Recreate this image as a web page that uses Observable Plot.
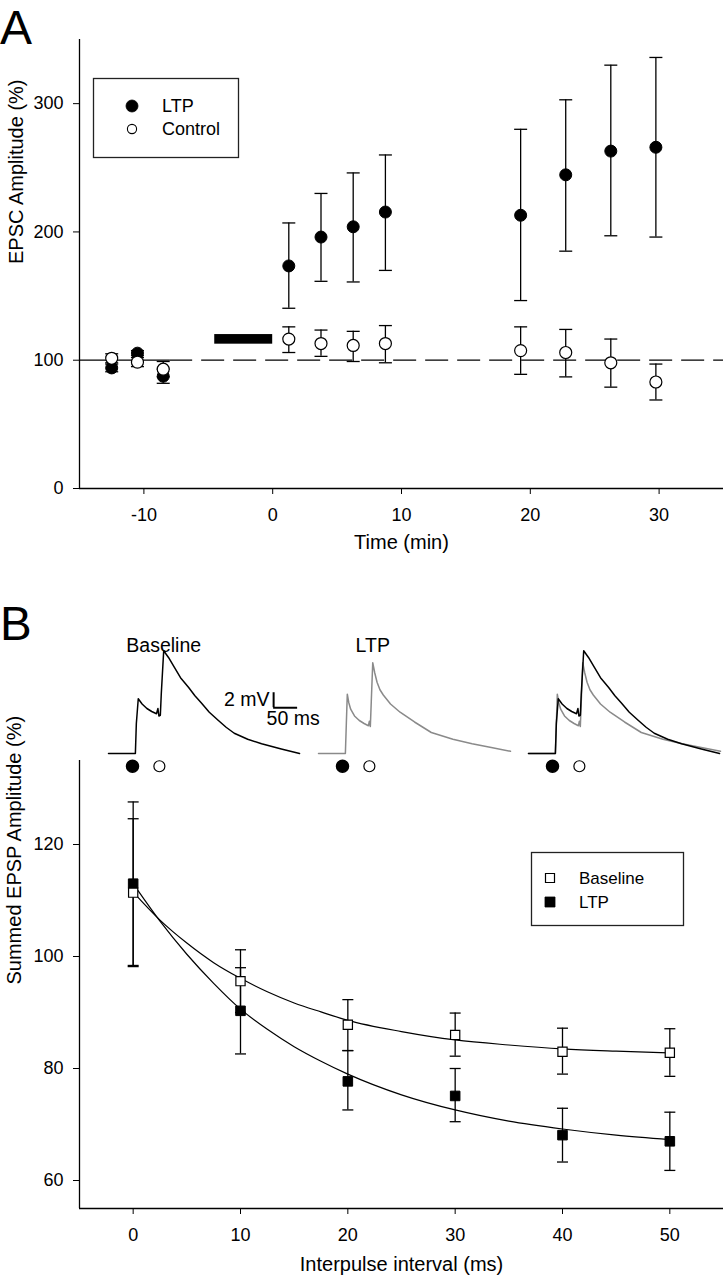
<!DOCTYPE html>
<html>
<head>
<meta charset="utf-8">
<script src="https://cdn.jsdelivr.net/npm/d3@7"></script>
<script src="https://cdn.jsdelivr.net/npm/@observablehq/plot@0.6"></script>
<style>
  body { margin: 0; background: #fff; }
  #fig { position: relative; width: 723px; height: 1280px; overflow: hidden;
         font-family: "Liberation Sans", Arial, Helvetica, sans-serif; color: #000; background: #fff; }
  .panel-letter { position: absolute; font-family: "Liberation Sans", Arial, sans-serif; }
</style>
</head>
<body>
<div id="fig"></div>
<script>
// ---------------- Panel A data ----------------
const timeA    = [-12.5, -10.5, -8.5, 1.25, 3.75, 6.25, 8.75, 19.25, 22.75, 26.25, 29.75];
const ltpMeanA = [94, 105.5, 87.5, 173.5, 196, 204, 215.5, 213, 244.5, 263, 266];
const ltpLowA  = [91, 103.5, 82, 140.5, 161.5, 161, 170, 146.5, 185, 197, 196];
const ltpHighA = [97, 107.5, 93, 207, 230, 246, 260, 280, 303, 330, 336];
const ctlMeanA = [101.5, 98.5, 93, 116.5, 113, 111.5, 113, 107.5, 106, 98, 83];
const ctlLowA  = [98, 95, 87, 106, 103, 99, 98, 89, 87, 79, 69];
const ctlHighA = [105, 102, 99, 126, 123.5, 122.5, 127, 126, 124, 116.5, 97];
const seriesNamesA = ["LTP", "Control"];
const xTicksA = [-10, 0, 10, 20, 30];
const yTicksA = [0, 100, 200, 300];
const refLevelA = 100;
const hfsBar = [{start: -4.5, end: 0, low: 112.5, high: 120}];

// ---------------- Panel B data ----------------
const intervalB = [0, 10, 20, 30, 40, 50];
const baseMeanB = [111.4, 95.6, 87.8, 86, 83, 82.8];
const baseLowB  = [98.2, 90, 83.2, 82.2, 79, 78.6];
const baseHighB = [124.6, 101.2, 92.3, 89.9, 87.2, 87.1];
const ltpMeanB  = [113, 90.3, 77.7, 75.1, 68.1, 67];
const ltpLowB   = [98.4, 82.6, 72.6, 70.5, 63.3, 61.8];
const ltpHighB  = [127.6, 98, 83.2, 80, 72.9, 72.2];
const fitT      = [0, 2.5, 5, 7.5, 10, 12.5, 15, 17.5, 20, 25, 30, 35, 40, 45, 50];
const baseFitB  = [111.5, 106.5, 102.4, 98.9, 96.1, 93.7, 91.7, 90.1, 88.6, 86.6, 85.1, 84.2, 83.5, 83.1, 82.8];
const ltpFitB   = [113, 106.3, 100.4, 95.2, 90.6, 87, 83.9, 81.3, 79, 75.3, 72.6, 70.6, 69.2, 68.1, 67.3];
const seriesNamesB = ["Baseline", "LTP"];
const xTicksB = [0, 10, 20, 30, 40, 50];
const yTicksB = [60, 80, 100, 120];

// ---------------- Trace inset data (ms, mV) ----------------
const baselineTraceT = [0, 56, 58, 62, 70, 80, 90, 100, 103, 105, 108, 110, 115, 125, 137, 150, 167, 180, 194, 210, 229, 245, 262, 290, 319, 360, 398];
const baselineTraceV = [0, 0, 4, 7.3, 6.6, 6.0, 5.6, 5.3, 6.0, 5.0, 5.1, 8, 13.7, 12.8, 11.5, 10.1, 8.8, 7.7, 6.7, 5.5, 4.4, 3.5, 2.7, 1.9, 1.3, 0.6, 0];
const ltpTraceT = [0, 56, 58, 60, 63, 67, 75, 85, 95, 104, 106, 108, 110, 113, 117, 122, 128, 135, 150, 170, 200, 235, 280, 320, 360, 400];
const ltpTraceV = [0, 0, 4, 7.9, 6.8, 5.9, 5.0, 4.4, 4.0, 3.7, 4.3, 3.6, 7, 12.1, 10.8, 9.5, 8.5, 7.8, 6.6, 5.5, 4.2, 2.8, 1.9, 1.3, 0.8, 0.3];
const tracePanels = ["Baseline", "LTP", "Overlay"];
const panelLabels = ["Baseline", "LTP", ""];
const stimTimes = [50, 106];
const scaleBarMs = 50, scaleBarMv = 2;

// ---------------- helpers ----------------
const FONT = '"Liberation Sans", Arial, Helvetica, sans-serif';
const W = 723;
const fig = document.getElementById("fig");
const plainNum = d => `${d}`;
function place(node, left, top, z) {
  node.style.position = "absolute";
  node.style.left = left + "px";
  node.style.top = top + "px";
  if (z != null) node.style.zIndex = z;
  fig.appendChild(node);
}
const capSymbol = {
  draw(ctx, size) { const r = Math.sqrt(size / Math.PI); ctx.moveTo(-r, 0); ctx.lineTo(r, 0); }
};
function errorMarks(rows, capR, sw) {
  return [
    Plot.ruleX(rows, {x: "x", y1: "low", y2: "high", stroke: "black", strokeWidth: sw}),
    Plot.dot(rows, {x: "x", y: "low", symbol: capSymbol, r: capR, fill: "none", stroke: "black", strokeWidth: sw}),
    Plot.dot(rows, {x: "x", y: "high", symbol: capSymbol, r: capR, fill: "none", stroke: "black", strokeWidth: sw})
  ];
}
const baseStyle = {fontFamily: FONT, fontSize: "18px", background: "transparent", color: "black", overflow: "visible"};

// ---------------- Panel A ----------------
const rowsA = [
  timeA.map((x, i) => ({series: seriesNamesA[0], x, mean: ltpMeanA[i], low: ltpLowA[i], high: ltpHighA[i]})),
  timeA.map((x, i) => ({series: seriesNamesA[1], x, mean: ctlMeanA[i], low: ctlLowA[i], high: ctlHighA[i]}))
];
const xDomA = [-15, 35], yDomA = [0, 350];
const plotA = Plot.plot({
  width: W, height: 570, marginTop: 39, marginBottom: 82, marginLeft: 79, marginRight: 0,
  style: baseStyle,
  x: {domain: xDomA, ticks: xTicksA, tickFormat: plainNum, tickSize: 6, tickPadding: 14, label: null},
  y: {domain: yDomA, ticks: yTicksA, tickFormat: plainNum, tickSize: 6, tickPadding: 10, label: null},
  marks: [
    Plot.ruleY([refLevelA], {x1: xDomA[0], x2: -8, stroke: "black", strokeWidth: 1.2}),
    Plot.ruleY([refLevelA], {x1: -8, x2: xDomA[1], stroke: "black", strokeWidth: 1.2, strokeDasharray: "23,9"}),
    Plot.rect(hfsBar, {x1: "start", x2: "end", y1: "low", y2: "high", fill: "black"}),
    ...errorMarks(rowsA[0], 6.5, 1.3),
    Plot.dot(rowsA[0], {x: "x", y: "mean", r: 6, fill: "black", stroke: "black", strokeWidth: 1}),
    ...errorMarks(rowsA[1], 6.5, 1.3),
    Plot.dot(rowsA[1], {x: "x", y: "mean", r: 6, fill: "white", stroke: "black", strokeWidth: 1.2}),
    Plot.ruleX([xDomA[0]], {stroke: "black", strokeWidth: 1.3}),
    Plot.ruleY([yDomA[0]], {stroke: "black", strokeWidth: 1.3}),
    Plot.text(["EPSC Amplitude (%)"], {frameAnchor: "left", rotate: -90, dx: -63, fontSize: 20}),
    Plot.text(["Time (min)"], {frameAnchor: "bottom", dy: 60, fontSize: 20})
  ]
});
place(plotA, 0, 0, 1);

// ---------------- Panel B ----------------
const rowsB = [
  intervalB.map((x, i) => ({series: seriesNamesB[1], x, mean: ltpMeanB[i], low: ltpLowB[i], high: ltpHighB[i]})),
  intervalB.map((x, i) => ({series: seriesNamesB[0], x, mean: baseMeanB[i], low: baseLowB[i], high: baseHighB[i]}))
];
const fitRows = [
  fitT.map((x, i) => ({series: "Baseline", x, y: baseFitB[i]})),
  fitT.map((x, i) => ({series: "LTP", x, y: ltpFitB[i]}))
].flat();
const xDomB = [-5, 55], yDomB = [55, 135];
const plotB = Plot.plot({
  width: W, height: 540, marginTop: 20, marginBottom: 72, marginLeft: 79, marginRight: 0,
  style: baseStyle,
  x: {domain: xDomB, ticks: xTicksB, tickFormat: plainNum, tickSize: 6, tickPadding: 14, label: null},
  y: {domain: yDomB, ticks: yTicksB, tickFormat: plainNum, tickSize: 6, tickPadding: 10, label: null},
  marks: [
    Plot.line(fitRows, {x: "x", y: "y", z: "series", curve: "monotone-x", stroke: "black", strokeWidth: 1.2}),
    ...errorMarks(rowsB[0], 5.5, 1.3),
    ...errorMarks(rowsB[1], 5.5, 1.3),
    Plot.dot(rowsB[0], {x: "x", y: "mean", symbol: "square", r: 5.4, fill: "black", stroke: "black", strokeWidth: 1}),
    Plot.dot(rowsB[1], {x: "x", y: "mean", symbol: "square", r: 5.2, fill: "white", stroke: "black", strokeWidth: 1.2}),
    Plot.ruleX([xDomB[0]], {stroke: "black", strokeWidth: 1.3}),
    Plot.ruleY([yDomB[0]], {stroke: "black", strokeWidth: 1.3}),
    Plot.text(["Summed EPSP Amplitude (%)"], {frameAnchor: "left", rotate: -90, dx: -65, fontSize: 20}),
    Plot.text(["Interpulse interval (ms)"], {frameAnchor: "bottom", dy: 62, fontSize: 20})
  ]
});
place(plotB, 0, 740, 1);

// ---------------- Trace insets ----------------
const traceDefs = {
  baseline: {t: baselineTraceT, v: baselineTraceV, stroke: "black"},
  ltp: {t: ltpTraceT, v: ltpTraceV, stroke: "#8a8a8a"}
};
const panelTraces = {Baseline: ["baseline"], LTP: ["ltp"], Overlay: ["ltp", "baseline"]};
const traceRows = [];
for (const panel of tracePanels) {
  for (const key of panelTraces[panel]) {
    traceDefs[key].t.forEach((t, i) => traceRows.push({panel, key, t, v: traceDefs[key].v[i]}));
  }
}
const stimRows = tracePanels.flatMap(panel => stimTimes.map((t, i) => ({panel, t, v: -1.7, first: i === 0})));
const labelRows = tracePanels.map((panel, i) => {
  const key = panelTraces[panel][0];
  const peak = d3.greatest(traceRows.filter(d => d.panel === panel && d.key === key), d => d.v);
  return {panel, label: panelLabels[i], t: peak.t};
}).filter(d => d.label);
const barAnchor = {panel: tracePanels[0], t: 344, v: 6.1};
const plotT = Plot.plot({
  width: W, height: 160, marginLeft: 107, marginRight: 3, marginTop: 0, marginBottom: 0,
  style: baseStyle,
  fx: {domain: tracePanels, paddingInner: 0.088, paddingOuter: 0, axis: null},
  x: {domain: [0, 400], axis: null},
  y: {domain: [-3.6, 17.73], axis: null},
  marks: [
    Plot.line(traceRows.filter(d => d.key === "ltp"), {fx: "panel", x: "t", y: "v", stroke: traceDefs.ltp.stroke, strokeWidth: 1.5}),
    Plot.line(traceRows.filter(d => d.key === "baseline"), {fx: "panel", x: "t", y: "v", stroke: traceDefs.baseline.stroke, strokeWidth: 1.5}),
    Plot.dot(stimRows.filter(d => d.first), {fx: "panel", x: "t", y: "v", r: 6, fill: "black", stroke: "black"}),
    Plot.dot(stimRows.filter(d => !d.first), {fx: "panel", x: "t", y: "v", r: 5.5, fill: "white", stroke: "black", strokeWidth: 1.2}),
    Plot.text(labelRows, {fx: "panel", x: "t", text: "label", frameAnchor: "top", dy: 18, fontSize: 19.5}),
    Plot.ruleX([barAnchor], {fx: "panel", x: "t", y1: "v", y2: d => d.v + scaleBarMv, stroke: "black", strokeWidth: 2}),
    Plot.ruleY([barAnchor], {fx: "panel", y: "v", x1: "t", x2: d => d.t + scaleBarMs, stroke: "black", strokeWidth: 2}),
    Plot.text([barAnchor], {fx: "panel", x: "t", y: d => d.v + scaleBarMv / 2, text: () => `${scaleBarMv} mV`, textAnchor: "end", dx: -4, fontSize: 19.5}),
    Plot.text([barAnchor], {fx: "panel", x: "t", y: "v", text: () => `${scaleBarMs} ms`, textAnchor: "start", dx: -7, dy: 11, fontSize: 19.5})
  ]
});
place(plotT, 0, 620, 2);

// ---------------- Legends ----------------
function legendBox(left, top, width, height, items, markerX, textX, rowY, fontSize) {
  const svg = d3.create("svg").attr("width", width + 2).attr("height", height + 2).style("overflow", "visible");
  svg.append("rect").attr("x", 0.5).attr("y", 0.5).attr("width", width).attr("height", height)
    .attr("fill", "white").attr("stroke", "#222").attr("stroke-width", 1.3);
  items.forEach((it, i) => {
    const g = svg.append("g").attr("transform", `translate(0,${rowY[i]})`);
    g.append("path").attr("transform", `translate(${markerX},0)`)
      .attr("d", d3.symbol(it.symbol, it.size)())
      .attr("fill", it.fill).attr("stroke", "black").attr("stroke-width", it.sw);
    g.append("text").attr("x", textX).attr("dy", "0.35em").attr("font-family", FONT)
      .attr("font-size", fontSize).text(it.label);
  });
  place(svg.node(), left, top, 3);
}
legendBox(93, 78, 145, 79, [
  {label: seriesNamesA[0], symbol: d3.symbolCircle, size: Math.PI * 6 * 6, fill: "black", sw: 0.8},
  {label: seriesNamesA[1], symbol: d3.symbolCircle, size: Math.PI * 4.6 * 4.6, fill: "white", sw: 1.1}
], 39, 69, [28, 51], 18);
legendBox(531, 852, 152, 73, [
  {label: seriesNamesB[0], symbol: d3.symbolSquare, size: 9 * 9, fill: "white", sw: 1.2},
  {label: seriesNamesB[1], symbol: d3.symbolSquare, size: 10 * 10, fill: "black", sw: 0.8}
], 19, 48, [26, 50], 17);

// ---------------- Panel letters ----------------
const letterA = document.createElement("div");
letterA.className = "panel-letter"; letterA.style.fontSize = "48px"; letterA.style.lineHeight = "55px";
letterA.textContent = "A";
place(letterA, 0, 0, 4);
const letterB = document.createElement("div");
letterB.className = "panel-letter"; letterB.style.fontSize = "47.5px"; letterB.style.lineHeight = "44px";
letterB.textContent = "B";
place(letterB, 0, 602, 4);
</script>
</body>
</html>
